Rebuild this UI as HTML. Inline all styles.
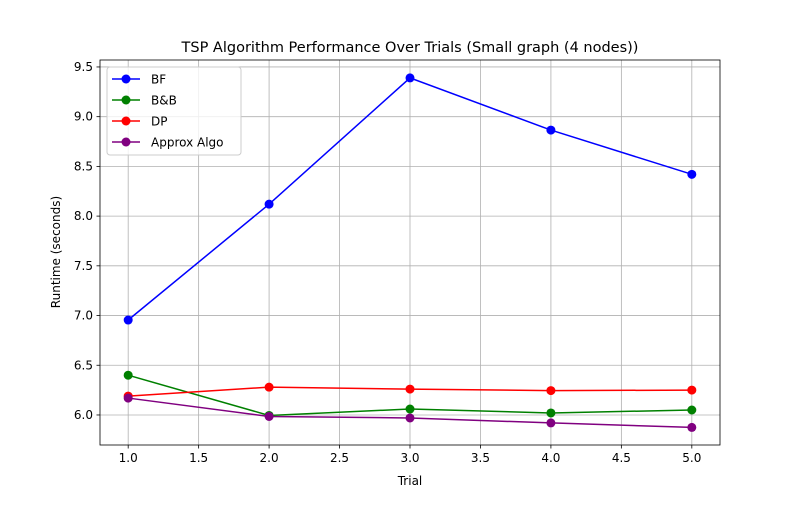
<!DOCTYPE html>
<html><head><meta charset="utf-8"><style>
body{margin:0;background:#fff;}
svg text{font-family:"DejaVu Sans","Liberation Sans",sans-serif;fill:#000;}
</style></head><body>
<svg id="chart" width="800" height="500" xmlns="http://www.w3.org/2000/svg"></svg>
<script>
const trials=[1,2,3,4,5];
const bf=[6.955,8.12,9.39,8.865,8.42];
const bb=[6.40,5.995,6.06,6.02,6.05];
const dp=[6.19,6.28,6.26,6.245,6.25];
const approx=[6.17,5.985,5.97,5.92,5.875];
const seriesNames=["BF","B&B","DP","Approx Algo"];
const seriesColors=["blue","green","red","purple"];
const xTicks=[1.0,1.5,2.0,2.5,3.0,3.5,4.0,4.5,5.0];
const yTicks=[6.0,6.5,7.0,7.5,8.0,8.5,9.0,9.5];
const L=100,R=720,T=60,B=445;
const xMin=0.8,xMax=5.2,yMin=5.698,yMax=9.57;
const sx=v=>L+(v-xMin)/(xMax-xMin)*(R-L);
const sy=v=>B-(v-yMin)/(yMax-yMin)*(B-T);
const svg=document.getElementById('chart');
const NS="http://www.w3.org/2000/svg";
function mk(tag,attrs,parent){const e=document.createElementNS(NS,tag);for(const k in attrs)e.setAttribute(k,attrs[k]);(parent||svg).appendChild(e);return e;}
const grid=mk('g',{});


xTicks.forEach(t=>{
  mk('line',{x1:sx(t),x2:sx(t),y1:T,y2:B,stroke:'#b0b0b0','stroke-width':0.8},grid);
  mk('line',{x1:sx(t),x2:sx(t),y1:B,y2:B+3.5,stroke:'#000','stroke-width':0.8});
  const tx=mk('text',{x:sx(t),y:B+17,'font-size':12,'text-anchor':'middle'});
  
  
  tx.textContent=t.toFixed(1);
});
yTicks.forEach(t=>{
  mk('line',{x1:L,x2:R,y1:sy(t),y2:sy(t),stroke:'#b0b0b0','stroke-width':0.8},grid);
  mk('line',{x1:L-3.5,x2:L,y1:sy(t),y2:sy(t),stroke:'#000','stroke-width':0.8});
  const tx=mk('text',{x:L-7,y:sy(t)+4,'font-size':12,'text-anchor':'end'});
  
  
  tx.textContent=t.toFixed(1);
});
const data=[bf,bb,dp,approx];
data.forEach((s,i)=>{
  const g=mk('g',{});
  
  
  mk('polyline',{points:s.map((v,j)=>sx(trials[j])+','+sy(v)).join(' '),fill:'none',stroke:seriesColors[i],'stroke-width':1.5},g);
  s.forEach((v,j)=>{
    const c=mk('circle',{cx:sx(trials[j]),cy:sy(v),r:4.5,fill:seriesColors[i]},g);
    
    
  });
});
const frame=mk('rect',{x:L,y:T,width:R-L,height:B-T,fill:'none',stroke:'#000','stroke-width':0.8});


const title=mk('text',{x:410,y:52,'font-size':14.5,'text-anchor':'middle'});


title.textContent='TSP Algorithm Performance Over Trials (Small graph (4 nodes))';
const xl=mk('text',{x:410,y:485,'font-size':12,'text-anchor':'middle'});


xl.textContent='Trial';
const yl=mk('text',{x:60,y:252,'font-size':12,'text-anchor':'middle',transform:'rotate(-90 60 252)'});


yl.textContent='Runtime (seconds)';
const lg=mk('g',{});


mk('rect',{x:107,y:67,width:134,height:88,rx:3,fill:'#fff','fill-opacity':0.8,stroke:'#ccc'},lg);
seriesNames.forEach((n,i)=>{
  const y=79+i*21;
  const e=mk('g',{},lg);
  
  
  mk('line',{x1:112,x2:140,y1:y,y2:y,stroke:seriesColors[i],'stroke-width':1.5},e);
  mk('circle',{cx:126,cy:y,r:4.5,fill:seriesColors[i]},e);
  const t=mk('text',{x:151,y:y+4.5,'font-size':12},e);
  t.textContent=n;
});
</script>
</body></html>
